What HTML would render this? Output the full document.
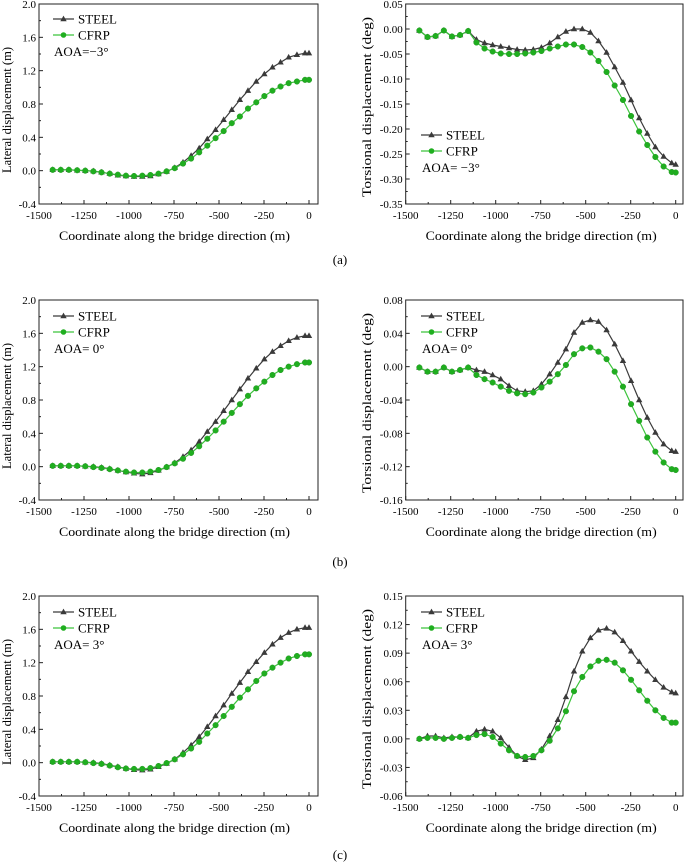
<!DOCTYPE html>
<html><head><meta charset="utf-8">
<style>
html,body{margin:0;padding:0;background:#fff;}
svg{display:block;font-family:"Liberation Serif","Times New Roman",serif;}
</style></head>
<body>
<svg id="fig" width="685" height="862" viewBox="0 0 685 862" xmlns="http://www.w3.org/2000/svg">
<text x="340" y="264" font-size="13" text-anchor="middle">(a)</text>
<text x="340" y="566" font-size="13" text-anchor="middle">(b)</text>
<text x="340" y="859" font-size="13" text-anchor="middle">(c)</text>
</svg>
<script>
const xCoords = [-1424,-1379,-1334,-1288,-1243,-1198,-1153,-1107,-1062,-1017,-972,-926,-881,-836,-791,-746,-700,-655,-610,-565,-519,-474,-429,-384,-339,-293,-248,-203,-158,-113,-67,-22,0];
const xTicks = [-1500,-1250,-1000,-750,-500,-250,0];

const latSteelA = [0.01,0.01,0.01,0.005,0,-0.005,-0.02,-0.035,-0.055,-0.065,-0.07,-0.07,-0.065,-0.04,-0.01,0.035,0.1,0.18,0.27,0.38,0.49,0.61,0.73,0.85,0.96,1.07,1.16,1.24,1.30,1.36,1.39,1.41,1.41];
const latCfrpA = [0.01,0.01,0.01,0.005,0,-0.008,-0.02,-0.036,-0.048,-0.06,-0.064,-0.06,-0.052,-0.036,-0.008,0.03,0.085,0.145,0.22,0.30,0.39,0.475,0.57,0.65,0.745,0.82,0.895,0.96,1.01,1.05,1.07,1.09,1.09];
const torSteelA = [-0.003,-0.016,-0.014,-0.003,-0.015,-0.012,-0.004,-0.021,-0.028,-0.032,-0.035,-0.038,-0.041,-0.042,-0.041,-0.037,-0.028,-0.016,-0.005,0,0,-0.007,-0.024,-0.047,-0.076,-0.107,-0.142,-0.178,-0.209,-0.236,-0.255,-0.268,-0.271];
const torCfrpA = [-0.003,-0.016,-0.014,-0.003,-0.015,-0.012,-0.004,-0.027,-0.039,-0.045,-0.049,-0.050,-0.050,-0.049,-0.047,-0.044,-0.039,-0.035,-0.031,-0.031,-0.036,-0.047,-0.064,-0.086,-0.113,-0.142,-0.174,-0.205,-0.232,-0.256,-0.275,-0.286,-0.287];

const latSteelB = [0.01,0.01,0.01,0.01,0.005,0,-0.01,-0.025,-0.045,-0.065,-0.08,-0.09,-0.075,-0.045,-0.005,0.045,0.12,0.2,0.3,0.42,0.54,0.67,0.8,0.93,1.06,1.18,1.29,1.38,1.45,1.51,1.55,1.57,1.57];
const latCfrpB = [0.01,0.01,0.01,0.01,0.005,-0.005,-0.015,-0.03,-0.045,-0.06,-0.07,-0.07,-0.06,-0.04,-0.005,0.04,0.095,0.165,0.245,0.335,0.435,0.54,0.645,0.75,0.85,0.94,1.02,1.1,1.16,1.2,1.23,1.25,1.25];
const torSteelB = [-0.001,-0.006,-0.006,-0.001,-0.006,-0.004,-0.001,-0.004,-0.006,-0.01,-0.015,-0.023,-0.029,-0.03,-0.029,-0.021,-0.009,0.005,0.021,0.041,0.053,0.056,0.054,0.044,0.027,0.007,-0.017,-0.040,-0.061,-0.079,-0.093,-0.101,-0.102];
const torCfrpB = [-0.001,-0.006,-0.006,-0.001,-0.006,-0.004,-0.001,-0.01,-0.015,-0.019,-0.024,-0.029,-0.032,-0.033,-0.031,-0.025,-0.018,-0.009,0.002,0.015,0.022,0.023,0.018,0.009,-0.006,-0.024,-0.045,-0.065,-0.085,-0.102,-0.115,-0.123,-0.124];

const latSteelC = [0.01,0.01,0.01,0.01,0.005,0,-0.01,-0.03,-0.05,-0.07,-0.085,-0.09,-0.08,-0.05,-0.01,0.04,0.12,0.21,0.31,0.43,0.56,0.69,0.83,0.96,1.09,1.21,1.32,1.42,1.5,1.56,1.6,1.62,1.62];
const latCfrpC = [0.01,0.01,0.01,0.01,0.005,-0.005,-0.015,-0.035,-0.055,-0.07,-0.075,-0.075,-0.065,-0.04,-0.005,0.04,0.1,0.17,0.25,0.35,0.45,0.56,0.67,0.78,0.88,0.98,1.07,1.14,1.2,1.25,1.28,1.3,1.3];
const torSteelC = [0,0.003,0.003,0.001,0.002,0.002,0.001,0.008,0.010,0.008,0.001,-0.009,-0.018,-0.022,-0.020,-0.011,0.003,0.020,0.044,0.071,0.092,0.106,0.114,0.116,0.112,0.103,0.092,0.081,0.071,0.062,0.054,0.049,0.048];
const torCfrpC = [0,0.001,0.001,0,0.001,0.002,0.001,0.004,0.005,0.002,-0.005,-0.012,-0.018,-0.019,-0.018,-0.012,-0.002,0.011,0.029,0.050,0.065,0.076,0.082,0.083,0.080,0.072,0.062,0.051,0.040,0.030,0.022,0.017,0.017];

const latTicks = [-0.4,0.0,0.4,0.8,1.2,1.6,2.0];
const latTickLabels = ["-0.4","0.0","0.4","0.8","1.2","1.6","2.0"];
const torTicksA = [-0.35,-0.30,-0.25,-0.20,-0.15,-0.10,-0.05,0.00,0.05];
const torTickLabelsA = ["-0.35","-0.30","-0.25","-0.20","-0.15","-0.10","-0.05","0.00","0.05"];
const torTicksB = [-0.16,-0.12,-0.08,-0.04,0.00,0.04,0.08];
const torTickLabelsB = ["-0.16","-0.12","-0.08","-0.04","0.00","0.04","0.08"];
const torTicksC = [-0.06,-0.03,0.00,0.03,0.06,0.09,0.12,0.15];
const torTickLabelsC = ["-0.06","-0.03","0.00","0.03","0.06","0.09","0.12","0.15"];

const NS = "http://www.w3.org/2000/svg";
const fig = document.getElementById('fig');
function mk(tag, attrs, parent){
  const e = document.createElementNS(NS, tag);
  for (const k in attrs) e.setAttribute(k, attrs[k]);
  (parent||fig).appendChild(e);
  return e;
}
const STEEL_C = "#3a3a3a", CFRP_LINE = "#3cc43c", CFRP_FILL = "#1fae1f";

function drawPlot(o){
  const g = mk('g', {});
  
  
  const L=o.left, R=o.right, T=o.top, B=o.top+200;
  const xs = v => L + (v + 1500) * 0.18;
  const ys = v => B - (v - o.ymin) / (o.ymax - o.ymin) * (B - T);
  // frame
  const fr = mk('rect', {x:L, y:T, width:R-L, height:B-T, fill:'none', stroke:'#222', 'stroke-width':1}, g);
  
  
  // y ticks
  const step = o.yticks[1]-o.yticks[0];
  o.yticks.forEach((v,i)=>{
    const y = ys(v);
    mk('line',{x1:L,x2:L+4,y1:y,y2:y,stroke:'#222','stroke-width':1},g);
    if (i < o.yticks.length-1){
      const ym = ys(v+step/2);
      mk('line',{x1:L,x2:L+2,y1:ym,y2:ym,stroke:'#222','stroke-width':1},g);
    }
    const t = mk('text',{x:L-3,y:y+4,'font-size':11,'text-anchor':'end'},g);
    t.textContent = o.ylabels[i];
    
    
  });
  // x ticks
  xTicks.forEach((v,i)=>{
    const x = xs(v);
    mk('line',{x1:x,x2:x,y1:B,y2:B-4,stroke:'#222','stroke-width':1},g);
    if (i < xTicks.length-1){
      const xm = xs(v+125);
      mk('line',{x1:xm,x2:xm,y1:B,y2:B-2,stroke:'#222','stroke-width':1},g);
    }
    const t = mk('text',{x:x,y:B+15,'font-size':11,'text-anchor':'middle'},g);
    t.textContent = String(v);
    
    
  });
  // axis titles
  const xt = mk('text',{x:(L+xs(0))/2+0.5,y:B+36,'font-size':13,'text-anchor':'middle',textLength:231,lengthAdjust:'spacingAndGlyphs'},g);
  xt.textContent = 'Coordinate along the bridge direction (m)';
  
  
  const yt = mk('text',{x:0,y:0,'font-size':13,'text-anchor':'middle',textLength:o.ytLen,lengthAdjust:'spacingAndGlyphs',transform:`translate(${o.ytX},${T+o.ytC}) rotate(-90)`},g);
  yt.textContent = o.ytitle;
  
  
  // series
  function series(vals, isSteel){
    const pts = vals.map((v,i)=>xs(xCoords[i]).toFixed(2)+','+ys(v).toFixed(2)).join(' ');
    const pl = mk('polyline',{points:pts,fill:'none',stroke:isSteel?STEEL_C:CFRP_LINE,'stroke-width':1.2},g);
    
    
    vals.forEach((v,i)=>{
      const x = xs(xCoords[i]), y = ys(v);
      let m;
      if (isSteel){
        m = mk('polygon',{points:`${x},${y-3.4} ${x-3.2},${y+2.2} ${x+3.2},${y+2.2}`,fill:STEEL_C},g);
        
      } else {
        m = mk('circle',{cx:x,cy:y,r:2.8,fill:CFRP_FILL,stroke:'#2a9a2a','stroke-width':0.5},g);
        
      }
      
    });
  }
  series(o.steel, true);
  series(o.cfrp, false);
  // legend
  const lx = o.legX, ly = T + o.legY;
  const lg = mk('g',{},g);
  
  
  mk('line',{x1:lx,x2:lx+21,y1:ly,y2:ly,stroke:STEEL_C,'stroke-width':1.2},lg);
  mk('polygon',{points:`${lx+10.5},${ly-3.4} ${lx+7.3},${ly+2.2} ${lx+13.7},${ly+2.2}`,fill:STEEL_C},lg);
  const t1 = mk('text',{x:lx+25,y:ly+4.5,'font-size':13},lg); t1.textContent='STEEL';
  
  
  mk('line',{x1:lx,x2:lx+21,y1:ly+16,y2:ly+16,stroke:CFRP_LINE,'stroke-width':1.2},lg);
  mk('circle',{cx:lx+10.5,cy:ly+16,r:2.8,fill:CFRP_FILL},lg);
  const t2 = mk('text',{x:lx+25,y:ly+20.5,'font-size':13},lg); t2.textContent='CFRP';
  
  
  const t3 = mk('text',{x:lx+1,y:ly+37,'font-size':13},lg); t3.textContent=o.aoa;
  
  
}

const LL=39, LR=318, RL=405.7, RR=683;
drawPlot({name:'lateral-chart-a',left:LL,right:LR,top:4,ymin:-0.4,ymax:2.0,yticks:latTicks,ylabels:latTickLabels,steel:latSteelA,cfrp:latCfrpA,ytitle:'Lateral displacement (m)',ytX:11,ytC:106,ytLen:126,legX:53,legY:15,aoa:'AOA=\u22123\u00b0'});
drawPlot({name:'torsional-chart-a',left:RL,right:RR,top:4,ymin:-0.35,ymax:0.05,yticks:torTicksA,ylabels:torTickLabelsA,steel:torSteelA,cfrp:torCfrpA,ytitle:'Torsional displacement (deg)',ytX:371,ytC:103,ytLen:180,legX:421,legY:131,aoa:'AOA= \u22123\u00b0'});
drawPlot({name:'lateral-chart-b',left:LL,right:LR,top:300,ymin:-0.4,ymax:2.0,yticks:latTicks,ylabels:latTickLabels,steel:latSteelB,cfrp:latCfrpB,ytitle:'Lateral displacement (m)',ytX:11,ytC:106,ytLen:126,legX:53,legY:16,aoa:'AOA= 0\u00b0'});
drawPlot({name:'torsional-chart-b',left:RL,right:RR,top:300,ymin:-0.16,ymax:0.08,yticks:torTicksB,ylabels:torTickLabelsB,steel:torSteelB,cfrp:torCfrpB,ytitle:'Torsional displacement (deg)',ytX:371,ytC:103,ytLen:180,legX:421,legY:16,aoa:'AOA= 0\u00b0'});
drawPlot({name:'lateral-chart-c',left:LL,right:LR,top:596,ymin:-0.4,ymax:2.0,yticks:latTicks,ylabels:latTickLabels,steel:latSteelC,cfrp:latCfrpC,ytitle:'Lateral displacement (m)',ytX:11,ytC:106,ytLen:126,legX:53,legY:16,aoa:'AOA= 3\u00b0'});
drawPlot({name:'torsional-chart-c',left:RL,right:RR,top:596,ymin:-0.06,ymax:0.15,yticks:torTicksC,ylabels:torTickLabelsC,steel:torSteelC,cfrp:torCfrpC,ytitle:'Torsional displacement (deg)',ytX:371,ytC:103,ytLen:180,legX:421,legY:16,aoa:'AOA= 3\u00b0'});
</script>
</body></html>
